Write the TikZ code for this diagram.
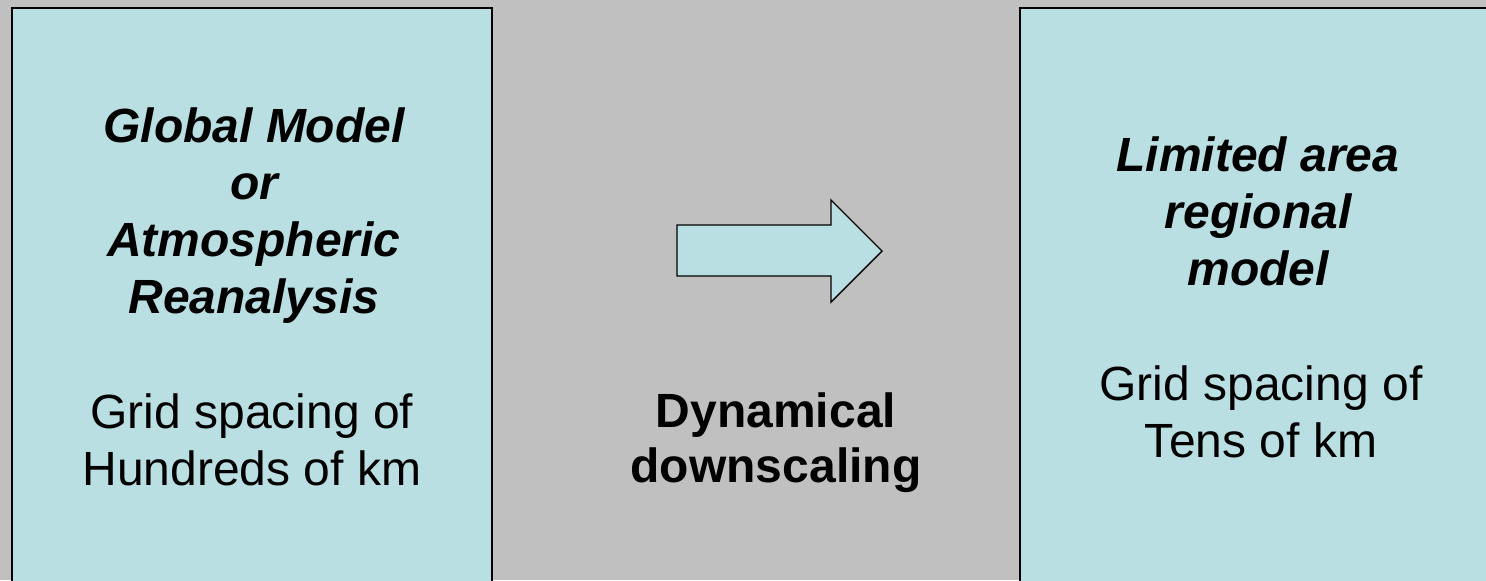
\documentclass[tikz,border=0pt]{standalone}
\usepackage{fontspec}
\setmainfont{Liberation Sans}
\definecolor{panelblue}{RGB}{185,223,226}
\definecolor{slidegray}{RGB}{192,192,192}

\begin{document}
\begin{tikzpicture}[%
		x=0.5pt,
		y=-0.5pt,
		panel/.style={%
			draw,
			line width=1pt,
			fill=panelblue,
			inner sep=0pt
		},
		title/.style={%
			align=center,
			anchor=base,
			inner sep=0pt,
			font=\fontsize{24}{28.5}\selectfont\bfseries\itshape
		},
		plain/.style={%
			align=center,
			anchor=base,
			inner sep=0pt,
			font=\fontsize{24}{28.5}\selectfont
		}
		]
		\fill[slidegray] (0,0) rectangle (1486,580);
		\useasboundingbox (0,0) rectangle (1486,580);
		\clip (0,0) rectangle (1486,580);
		
		\node[panel, minimum width=240pt, minimum height=316pt] (global)   at (252,324)  {};
		\node[panel, minimum width=260pt, minimum height=316pt] (regional) at (1280,324) {};
		
		\node[title] (globalTitle)   at (254,313)  {Global Model\\or\\Atmospheric\\Reanalysis};
		\node[plain] (globalGrid)    at (252,485)  {Grid spacing of\\Hundreds of km};
		\node[title] (regionalTitle) at (1258,285) {Limited area\\regional\\model};
		\node[plain] (regionalGrid)  at (1261,457) {Grid spacing of\\Tens of km};
		\node[plain, font=\fontsize{24}{27.5}\selectfont\bfseries] (method) at (776,482) {Dynamical\\downscaling};
		
		% block arrow between the panels
		\draw[line width=0.7pt, fill=panelblue, line join=miter]
		(677,225) -- (831,225) -- (831,200) -- (882,251)
		-- (831,302) -- (831,276) -- (677,276) -- cycle;
		\end{tikzpicture}
\end{document}
